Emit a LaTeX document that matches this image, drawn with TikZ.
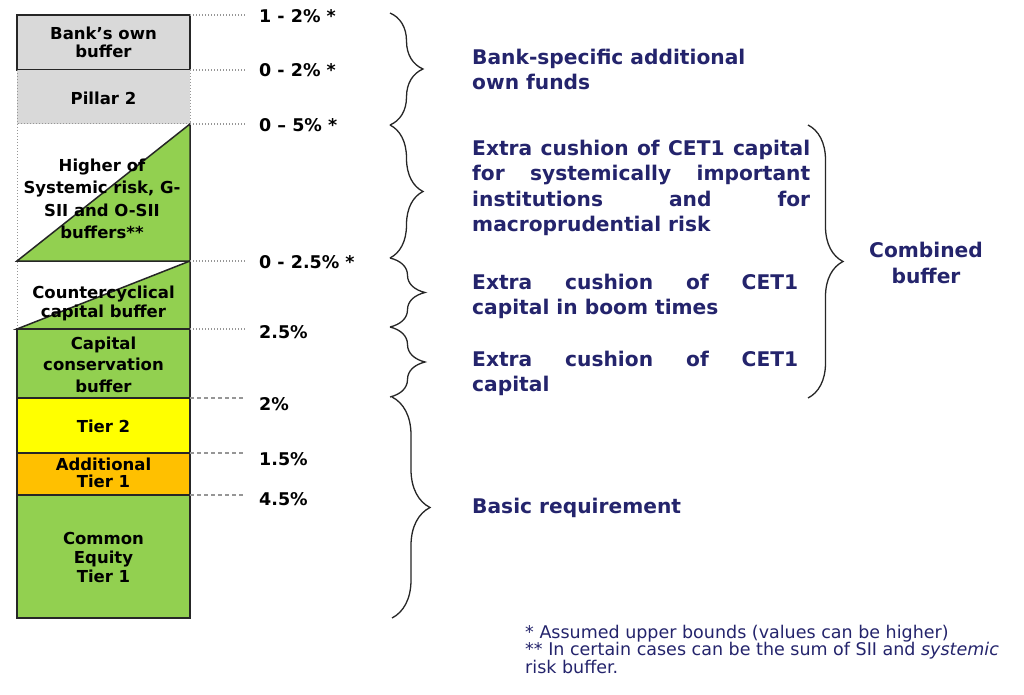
\documentclass[tikz,border=0pt]{standalone}
\usepackage{fontspec}
\setmainfont{DejaVu Sans}
\usepackage{tikz}
\usetikzlibrary{decorations.pathreplacing, positioning}
\definecolor{capgreen}{RGB}{146, 208, 80}
\definecolor{pillargrey}{RGB}{217, 217, 217}
\definecolor{tieryellow}{RGB}{255, 255, 0}
\definecolor{atorange}{RGB}{255, 192, 0}
\definecolor{edgedark}{RGB}{38, 38, 38}
\definecolor{leadgrey}{RGB}{150, 150, 150}
\definecolor{navytext}{RGB}{36, 36, 108}
\newcommand{\spreadline}[2]{\makebox[#1][s]{#2}}

\begin{document}
\begin{tikzpicture}[x=1pt, y=-1pt,
  barline/.style={draw=edgedark, line width=1.5pt},
  dotedge/.style={draw=leadgrey, line width=1pt, dash pattern=on 1.2pt off 1.8pt},
  leaddot/.style={leadgrey, line width=1.1pt, dash pattern=on 1.2pt off 1.8pt},
  leaddash/.style={leadgrey, line width=1.1pt, dash pattern=on 4pt off 3pt},
  barlabel/.style={font=\fontsize{16.5}{#1}\selectfont\bfseries, align=center, anchor=base, inner sep=0pt},
  barlabel/.default=20,
  pctlabel/.style={font=\fontsize{17.5}{19}\selectfont\bfseries, anchor=base west, inner sep=0pt},
  bluetext/.style={navytext, font=\fontsize{20.2}{25.5}\selectfont\bfseries, align=left, anchor=base west, inner sep=0pt},
  notetext/.style={navytext, font=\fontsize{17.5}{17.5}\selectfont, align=left, anchor=base west, inner sep=0pt},
  curly/.style={decorate, decoration={brace, amplitude=#1}, edgedark, line width=1.3pt},
  curly/.default=33pt]
  \fill[white] (0,0) rectangle (1024,695);
  \useasboundingbox (0,0) rectangle (1024,695);

  % Bank-specific part of the bar
  \filldraw[fill=pillargrey, barline] (17,15) rectangle (190,70);
  \fill[pillargrey] (17,70) rectangle (190,124);
  \draw[dotedge] (190,70) -- (190,124) -- (17,124);
  \draw[dotedge] (17,70) -- (17,329);

  % Combined buffer triangles
  \filldraw[fill=capgreen, barline] (17,261) -- (190,124) -- (190,261) -- cycle;
  \filldraw[fill=capgreen, barline] (17,329) -- (190,261) -- (190,329) -- cycle;

  % Basic requirement
  \filldraw[fill=capgreen, barline] (17,329) rectangle (190,398);
  \filldraw[fill=tieryellow, barline] (17,398) rectangle (190,453);
  \filldraw[fill=atorange, barline] (17,453) rectangle (190,495);
  \filldraw[fill=capgreen, barline] (17,495) rectangle (190,618);

  % Bar labels (placed at the baseline of their last line)
  \node[barlabel=18] (ownBuf) at (103.5,58) {Bank's own\\buffer};
  \node[barlabel] (pillarTwo) at (103.5,105) {Pillar 2};
  \node[barlabel=22.5] (systemic) at (102,238.5) {Higher of\\Systemic risk, G-\\SII and O-SII\\buffers**};
  \node[barlabel=19.5] (ccyb) at (103.5,317.5) {Countercyclical\\capital buffer};
  \node[barlabel=21.5] (conserv) at (103.5,392) {Capital\\conservation\\buffer};
  \node[barlabel] (tierTwo) at (103.5,432) {Tier 2};
  \node[barlabel=17] (addTier) at (103.5,487) {Additional\\Tier 1};
  \node[barlabel=19] (cetOne) at (103.5,582) {Common\\Equity\\Tier 1};

  % Levels and percentages
  \foreach \yy [count=\i] in {15,70,124,261,329,398,453,495}
    \coordinate (lvl\i) at (190,\yy);
  \foreach \i/\base/\pct in {1/23/{1 - 2\% *}, 2/77/{0 - 2\% *}, 3/132/{0 -- 5\% *},
      4/268/{0 - 2.5\% *}, 5/338/{2.5\%}, 6/410/{2\%}, 7/465/{1.5\%}, 8/505/{4.5\%}}
    \node[pctlabel] (pct\i) at (259,\base) {\pct};
  \foreach \i in {1,...,5}
    \draw[leaddot] (lvl\i) -- ++(56,0);
  \foreach \i in {6,7,8}
    \draw[leaddash] (lvl\i) -- ++(53,0);

  % Braces
  \draw[curly] (390,13) -- (390,125);
  \draw[curly] (390,125) -- (390,258);
  \draw[curly=35pt] (390,258) -- (390,327);
  \draw[curly=35pt] (390,327) -- (390,397);
  \draw[curly=38pt] (392,397) -- (392,618);
  \draw[curly=35pt] (808,125) -- (808,398);

  % Explanations (placed at the baseline of their last line)
  \node[bluetext] (ownFunds) at (472,90) {Bank-specific additional\\own funds};
  \node[bluetext] (sysCushion) at (472,231.5) {\spreadline{338pt}{Extra cushion of CET1 capital}\\
    \spreadline{338pt}{for systemically important}\\\spreadline{338pt}{institutions and for}\\macroprudential risk};
  \node[bluetext] (boomCushion) at (472,314.5) {\spreadline{326pt}{Extra cushion of CET1}\\capital in boom times};
  \node[bluetext] (consCushion) at (472,391.5) {\spreadline{326pt}{Extra cushion of CET1}\\capital};
  \node[bluetext] (basicReq) at (472,513) {Basic requirement};
  \node[bluetext, align=center, anchor=base] (combined) at (926,283) {Combined\\buffer};

  % Footnotes
  \node[notetext] (notes) at (525,673) {* Assumed upper bounds (values can be higher)\\
    ** In certain cases can be the sum of SII and \textit{systemic}\\risk buffer.};
\end{tikzpicture}
\end{document}
